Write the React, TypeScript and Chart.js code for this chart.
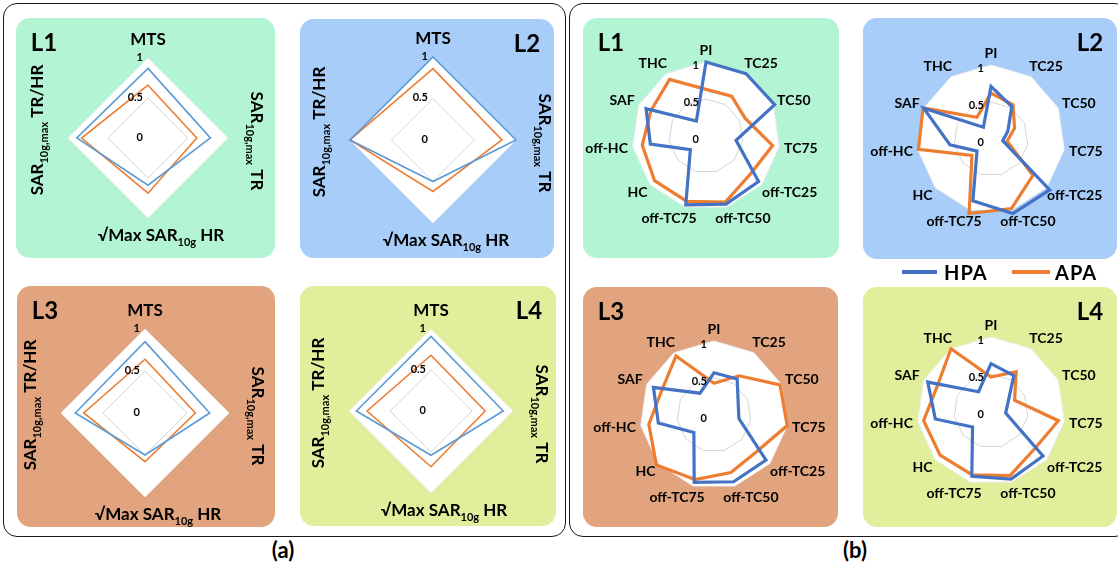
import React, { useEffect, useRef } from 'react';
import { Chart, registerables } from 'chart.js';
Chart.register(...registerables);

const FONT = 'Lato, "Open Sans", "DejaVu Sans", sans-serif';

// ---------------- data ----------------
const leftCategories = ['MTS', 'SAR10g,max TR', '√Max SAR10g HR', 'SAR10g,max TR/HR'];
// rich-text version of the left categories: [text, isSubscript]
const leftLabelParts: [string, boolean][][] = [
  [['MTS', false]],
  [['SAR', false], ['10g,max', true], [' TR', false]],
  [['√Max SAR', false], ['10g', true], [' HR', false]],
  [['SAR', false], ['10g,max', true], [' TR/HR', false]],
];
const rightCategories = ['PI', 'TC25', 'TC50', 'TC75', 'off-TC25', 'off-TC50', 'off-TC75', 'HC', 'off-HC', 'SAF', 'THC'];
const tickValues = [0, 0.5, 1];
const tickLabels = ['0', '0.5', '1'];
const seriesNames = ['HPA', 'APA'];
const layoutNames = ['L1', 'L2', 'L3', 'L4'];

// (a) left radar charts
const hpaA_L1 = [0.87, 0.78, 0.59, 0.89];
const apaA_L1 = [0.66, 0.61, 0.69, 0.83];
const hpaA_L2 = [1.0, 1.0, 0.5, 1.0];
const apaA_L2 = [0.86, 0.83, 0.62, 1.0];
const hpaA_L3 = [0.85, 0.77, 0.5, 0.83];
const apaA_L3 = [0.64, 0.6, 0.58, 0.73];
const hpaA_L4 = [0.91, 0.88, 0.54, 0.91];
const apaA_L4 = [0.68, 0.66, 0.68, 0.78];

// (b) right radar charts
const hpaB_L1 = [1.0, 1.0, 1.02, 0.41, 0.94, 0.96, 0.97, 0.28, 0.76, 0.89, 0.24];
const apaB_L1 = [0.63, 0.64, 0.58, 0.91, 0.79, 0.93, 0.92, 0.92, 0.87, 0.82, 0.91];
const hpaB_L2 = [0.71, 0.52, 0.25, 0.16, 1.05, 1.05, 0.87, 0.25, 0.56, 1.0, 0.19];
const apaB_L2 = [0.62, 0.55, 0.35, 0.22, 0.75, 0.98, 1.05, 0.34, 0.99, 1.01, 0.35];
const hpaB_L3 = [0.57, 0.58, 0.36, 0.34, 0.93, 0.94, 0.95, 0.36, 0.76, 0.9, 0.35];
const apaB_L3 = [0.43, 0.63, 0.98, 1.0, 0.76, 0.81, 0.91, 1.03, 0.89, 0.78, 0.95];
const hpaB_L4 = [0.64, 0.57, 0.25, 0.2, 0.93, 0.96, 0.92, 0.33, 0.76, 0.94, 0.31];
const apaB_L4 = [0.46, 0.63, 0.35, 0.92, 0.78, 0.91, 0.9, 0.91, 0.92, 0.8, 1.0];

// ---------------- layout ----------------
type Spec = {
  kind: 'a' | 'b';
  title: string;
  titleRight: boolean;
  color: string;
  px: number; py: number; pw: number; ph: number;
  cx: number; cy: number; R: number;
  hpa: number[]; apa: number[];
};

const GREEN = '#b3f4d4';
const BLUE = '#a7cdf8';
const SALMON = '#e2a47f';
const LIME = '#e1ef9c';

const specs: Spec[] = [
  { kind: 'a', title: layoutNames[0], titleRight: false, color: GREEN, px: 16, py: 18, pw: 259, ph: 240, cx: 148, cy: 138, R: 80, hpa: hpaA_L1, apa: apaA_L1 },
  { kind: 'a', title: layoutNames[1], titleRight: true, color: BLUE, px: 300, py: 19, pw: 254, ph: 239, cx: 433, cy: 140, R: 83, hpa: hpaA_L2, apa: apaA_L2 },
  { kind: 'a', title: layoutNames[2], titleRight: false, color: SALMON, px: 17, py: 286, pw: 258, ph: 241, cx: 145, cy: 413, R: 84, hpa: hpaA_L3, apa: apaA_L3 },
  { kind: 'a', title: layoutNames[3], titleRight: true, color: LIME, px: 300, py: 286, pw: 256, ph: 240, cx: 431, cy: 411, R: 82, hpa: hpaA_L4, apa: apaA_L4 },
  { kind: 'b', title: layoutNames[0], titleRight: false, color: GREEN, px: 583, py: 18, pw: 256, ph: 240, cx: 706, cy: 136, R: 74, hpa: hpaB_L1, apa: apaB_L1 },
  { kind: 'b', title: layoutNames[1], titleRight: true, color: BLUE, px: 863, py: 18, pw: 254, ph: 241, cx: 991, cy: 139, R: 74, hpa: hpaB_L2, apa: apaB_L2 },
  { kind: 'b', title: layoutNames[2], titleRight: false, color: SALMON, px: 583, py: 287, pw: 255, ph: 240, cx: 714, cy: 415, R: 74, hpa: hpaB_L3, apa: apaB_L3 },
  { kind: 'b', title: layoutNames[3], titleRight: true, color: LIME, px: 863, py: 287, pw: 254, ph: 240, cx: 991, cy: 411, R: 74, hpa: hpaB_L4, apa: apaB_L4 },
];

const HPA_BLUE_A = '#5b9bd5';
const HPA_BLUE_B = '#4472c4';
const APA_ORANGE = '#ed7d31';

function RadarPanel({ spec }: { spec: Spec }) {
  const ref = useRef<HTMLCanvasElement>(null);
  useEffect(() => {
    const s = spec;
    const canvas = ref.current!;
    const isA = s.kind === 'a';
    const lc = s.cx - s.px;
    const tc = s.cy - s.py;
    const padding = { left: lc - s.R, top: tc - s.R, right: s.pw - lc - s.R, bottom: s.ph - tc - s.R };

    const labelPlugin = {
      id: 'customLabels',
      afterDraw(chart: any) {
        const scale = chart.scales.r;
        const ctx: CanvasRenderingContext2D = chart.ctx;
        const x0 = scale.xCenter;
        const y0 = scale.yCenter;
        const R = scale.drawingArea;
        ctx.save();
        ctx.fillStyle = '#000';
        // tick labels
        ctx.font = `bold 11px ${FONT}`;
        ctx.textAlign = 'right';
        ctx.textBaseline = 'middle';
        tickValues.forEach((v, i) => {
          const y = y0 - scale.getDistanceFromCenterForValue(v) + (isA ? -1 : 3);
          ctx.fillText(tickLabels[i], x0 - (isA ? 5 : 7), y);
        });
        if (isA) {
          const off = [18, 28, 18, 30];
          const along = [0, 3, 13, 8];
          const rots = [0, Math.PI / 2, 0, -Math.PI / 2];
          leftLabelParts.forEach((parts, i) => {
            const th = (i * Math.PI) / 2;
            const sx = Math.sin(th);
            const sy = -Math.cos(th);
            const d = R + off[i];
            ctx.save();
            ctx.translate(x0 + sx * d, y0 + sy * d);
            ctx.rotate(rots[i]);
            ctx.translate(along[i], 0);
            const mainFont = `bold 17px ${FONT}`;
            const subFont = `bold 11px ${FONT}`;
            let total = 0;
            parts.forEach(([t, sub]) => {
              ctx.font = sub ? subFont : mainFont;
              total += ctx.measureText(t).width;
            });
            let x = -total / 2;
            ctx.textAlign = 'left';
            ctx.textBaseline = 'middle';
            parts.forEach(([t, sub]) => {
              ctx.font = sub ? subFont : mainFont;
              ctx.fillText(t, x, sub ? 6 : 0);
              x += ctx.measureText(t).width;
            });
            ctx.restore();
          });
        } else {
          ctx.font = `bold 14px ${FONT}`;
          ctx.textAlign = 'center';
          ctx.textBaseline = 'middle';
          const pad = 5;
          const h = 14;
          chart.data.labels.forEach((lab: string, i: number) => {
            const p = scale.getPointPosition(i, R + pad);
            const th = p.angle + Math.PI / 2;
            const w = ctx.measureText(lab).width;
            const sn = Math.sin(th);
            const kx = Math.sign(sn) * Math.sqrt(Math.abs(sn));
            ctx.fillText(lab, p.x + (kx * w) / 2, p.y - (Math.cos(th) * h) / 2);
          });
        }
        ctx.restore();
      },
    };

    const blue = isA ? HPA_BLUE_A : HPA_BLUE_B;
    const lw = isA ? 1.6 : 3.2;
    const chart = new Chart(canvas, {
      type: 'radar',
      data: {
        labels: isA ? leftCategories : rightCategories,
        datasets: [
          { label: seriesNames[0], data: s.hpa, borderColor: blue, backgroundColor: blue, borderWidth: lw, pointRadius: 0, fill: false, tension: 0, borderJoinStyle: 'miter', clip: false } as any,
          { label: seriesNames[1], data: s.apa, borderColor: APA_ORANGE, backgroundColor: APA_ORANGE, borderWidth: lw, pointRadius: 0, fill: false, tension: 0, borderJoinStyle: 'miter', clip: false } as any,
        ],
      },
      options: {
        responsive: false,
        animation: false,
        devicePixelRatio: 1,
        layout: { padding },
        plugins: { legend: { display: false }, tooltip: { enabled: false } },
        scales: {
          r: {
            min: 0,
            max: 1,
            startAngle: 0,
            backgroundColor: '#ffffff',
            ticks: { display: false, stepSize: 0.5 },
            pointLabels: { display: false },
            angleLines: { display: false },
            grid: {
              color: (c: any) => (c.tick && c.tick.value === 0.5 ? '#d6d6d6' : '#eeeeee'),
              lineWidth: 1,
            },
          } as any,
        },
      },
      plugins: [labelPlugin],
    });
    let alive = true;
    if ((document as any).fonts && (document as any).fonts.ready) {
      (document as any).fonts.ready.then(() => { if (alive) chart.update(); });
    }
    return () => { alive = false; chart.destroy(); };
  }, [spec]);

  const titleStyle: React.CSSProperties = {
    position: 'absolute',
    top: 24,
    transform: 'translate(-50%, -50%)',
    font: `bold 24px ${FONT}`,
    lineHeight: 1,
    color: '#000',
    whiteSpace: 'nowrap',
  };
  if (spec.titleRight) titleStyle.left = spec.pw - 27; else titleStyle.left = 28;

  return (
    <div style={{ position: 'absolute', left: spec.px, top: spec.py, width: spec.pw, height: spec.ph, background: spec.color, borderRadius: 14 }}>
      <canvas ref={ref} width={spec.pw} height={spec.ph} style={{ position: 'absolute', left: 0, top: 0, width: spec.pw, height: spec.ph }} />
      <div style={titleStyle}>{spec.title}</div>
    </div>
  );
}

export default function App() {
  useEffect(() => {
    document.body.style.margin = '0';
  }, []);
  const frame: React.CSSProperties = {
    position: 'absolute',
    top: 3,
    height: 534,
    border: '1.5px solid #1a1a1a',
    borderRadius: 14,
    boxSizing: 'border-box',
  };
  const caption: React.CSSProperties = {
    position: 'absolute',
    top: 550,
    transform: 'translate(-50%, -50%)',
    font: `bold 22px ${FONT}`,
    lineHeight: 1,
    color: '#000',
  };
  const legendText: React.CSSProperties = {
    position: 'absolute',
    top: 272,
    transform: 'translateY(-50%)',
    font: `bold 20px ${FONT}`,
    letterSpacing: 1,
    lineHeight: 1,
    color: '#000',
  };
  return (
    <div style={{ position: 'absolute', left: 0, top: 0, width: 1118, height: 565, background: '#fff', overflow: 'hidden' }}>
      <div style={{ ...frame, left: 3, width: 563 }} />
      <div style={{ ...frame, left: 569, width: 560 }} />
      {specs.map((s, i) => (
        <RadarPanel key={i} spec={s} />
      ))}
      <div style={{ position: 'absolute', left: 902, top: 270, width: 35, height: 4, background: HPA_BLUE_B }} />
      <div style={{ ...legendText, left: 944 }}>{seriesNames[0]}</div>
      <div style={{ position: 'absolute', left: 1012, top: 270, width: 38, height: 4, background: APA_ORANGE }} />
      <div style={{ ...legendText, left: 1055 }}>{seriesNames[1]}</div>
      <div style={{ ...caption, left: 283 }}>(a)</div>
      <div style={{ ...caption, left: 855 }}>(b)</div>
    </div>
  );
}
